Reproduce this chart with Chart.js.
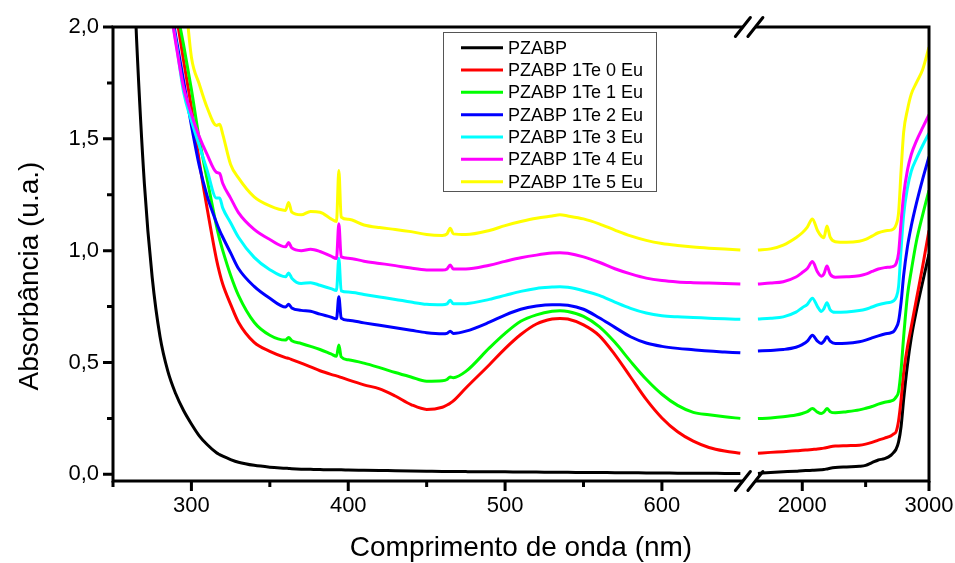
<!DOCTYPE html>
<html>
<head>
<meta charset="utf-8">
<title>Absorbância PZABP</title>
<script src="https://cdn.jsdelivr.net/npm/chart.js@4.4.1/dist/chart.umd.min.js"></script>
<style>
  html, body { margin: 0; padding: 0; background: #fff; }
  #wrap { width: 955px; height: 563px; }
</style>
</head>
<body>
<div id="wrap"><canvas id="chart" width="955" height="563"></canvas></div>
<script>
const FONT = "'Liberation Sans', Arial, Helvetica, sans-serif";

// wavelengths (nm): UV-Vis part and NIR part of the broken axis
const uvNm = [250, 260, 265, 270, 275, 280, 285, 290, 295, 300, 305, 310, 316, 318, 320, 325, 330, 340, 350, 360,
  362, 364, 370, 376, 382, 389, 392.5, 394, 395.5, 400, 410, 420, 430, 440, 450, 460, 463, 465, 467, 475,
  490, 500, 510, 520, 530, 535, 540, 550, 560, 570, 580, 590, 600, 610, 620, 630, 640, 650];
const nirNm = [1650, 1750, 1850, 1950, 2000, 2040, 2080, 2120, 2150, 2170, 2195, 2220, 2260, 2350, 2450,
  2500, 2550, 2600, 2650, 2700, 2720, 2740, 2760, 2780, 2800, 2830, 2860, 2900, 2950, 3000];

// absorbance (u.a.)
const pzabpUv = [4.0, 2.8, 1.95, 1.3, 0.88, 0.615, 0.46, 0.36, 0.285, 0.225, 0.172, 0.133, 0.096, 0.088, 0.081, 0.066, 0.054, 0.04, 0.032, 0.027,
  0.026, 0.025, 0.023, 0.022, 0.021, 0.02, 0.02, 0.02, 0.02, 0.019, 0.018, 0.017, 0.016, 0.015, 0.014, 0.013, 0.013, 0.013, 0.013, 0.012,
  0.011, 0.011, 0.01, 0.01, 0.009, 0.009, 0.009, 0.008, 0.008, 0.007, 0.007, 0.006, 0.006, 0.005, 0.005, 0.005, 0.004, 0.004];
const pzabpNir = [0.004, 0.008, 0.011, 0.014, 0.016, 0.017, 0.018, 0.019, 0.02, 0.021, 0.024, 0.027, 0.03, 0.033, 0.036,
  0.04, 0.052, 0.064, 0.07, 0.085, 0.097, 0.112, 0.145, 0.215, 0.335, 0.49, 0.61, 0.73, 0.86, 0.985];

const eu0Uv = [4.0, 3.6, 3.3, 3.0, 2.75, 2.55, 2.3, 2.07, 1.85, 1.64, 1.4, 1.19, 0.96, 0.9, 0.85, 0.76, 0.68, 0.59, 0.55, 0.522,
  0.518, 0.513, 0.497, 0.48, 0.463, 0.447, 0.44, 0.437, 0.433, 0.422, 0.4, 0.382, 0.35, 0.312, 0.29, 0.3, 0.31, 0.318, 0.328, 0.386,
  0.49, 0.562, 0.625, 0.672, 0.694, 0.697, 0.694, 0.668, 0.62, 0.535, 0.435, 0.335, 0.252, 0.19, 0.148, 0.12, 0.104, 0.094];
const eu0Nir = [0.094, 0.098, 0.101, 0.105, 0.107, 0.109, 0.111, 0.113, 0.115, 0.117, 0.12, 0.123, 0.126, 0.128, 0.13,
  0.135, 0.143, 0.153, 0.162, 0.172, 0.18, 0.19, 0.24, 0.335, 0.455, 0.57, 0.66, 0.78, 0.93, 1.09];

const eu1Uv = [4.0, 3.5, 3.2, 2.95, 2.7, 2.5, 2.3, 2.1, 1.92, 1.72, 1.5, 1.32, 1.11, 1.05, 1.0, 0.89, 0.8, 0.68, 0.622, 0.6,
  0.612, 0.597, 0.585, 0.572, 0.558, 0.538, 0.528, 0.578, 0.525, 0.512, 0.497, 0.477, 0.455, 0.435, 0.416, 0.418, 0.424, 0.435, 0.432, 0.46,
  0.565, 0.63, 0.684, 0.713, 0.729, 0.731, 0.728, 0.706, 0.66, 0.59, 0.505, 0.425, 0.358, 0.308, 0.277, 0.266, 0.257, 0.25];
const eu1Nir = [0.249, 0.252, 0.257, 0.265, 0.272, 0.28, 0.294, 0.278, 0.272, 0.278, 0.294, 0.28, 0.275, 0.28, 0.288,
  0.295, 0.303, 0.314, 0.322, 0.328, 0.332, 0.345, 0.37, 0.47, 0.615, 0.8, 0.91, 1.04, 1.16, 1.27];

const eu2Uv = [4.0, 3.4, 3.1, 2.85, 2.6, 2.38, 2.17, 1.96, 1.76, 1.56, 1.38, 1.245, 1.125, 1.09, 1.06, 0.99, 0.92, 0.84, 0.787, 0.748,
  0.76, 0.744, 0.733, 0.729, 0.716, 0.703, 0.695, 0.794, 0.698, 0.689, 0.677, 0.666, 0.655, 0.644, 0.633, 0.628, 0.63, 0.64, 0.63, 0.64,
  0.68, 0.712, 0.738, 0.752, 0.758, 0.758, 0.756, 0.738, 0.7, 0.657, 0.615, 0.587, 0.572, 0.563, 0.557, 0.551, 0.547, 0.543];
const eu2Nir = [0.551, 0.554, 0.558, 0.568, 0.58, 0.595, 0.622, 0.595, 0.585, 0.595, 0.615, 0.595, 0.585, 0.586, 0.593,
  0.6, 0.61, 0.619, 0.627, 0.633, 0.638, 0.655, 0.685, 0.77, 0.89, 1.018, 1.11, 1.21, 1.32, 1.42];

const eu3Uv = [4.0, 3.3, 3.0, 2.75, 2.5, 2.3, 2.12, 1.94, 1.71, 1.58, 1.47, 1.36, 1.235, 1.235, 1.19, 1.125, 1.06, 0.97, 0.915, 0.883,
  0.9, 0.877, 0.853, 0.857, 0.845, 0.83, 0.822, 0.966, 0.82, 0.815, 0.804, 0.793, 0.782, 0.77, 0.76, 0.758, 0.762, 0.778, 0.762, 0.763,
  0.782, 0.8, 0.818, 0.831, 0.837, 0.839, 0.836, 0.821, 0.8, 0.77, 0.742, 0.721, 0.709, 0.704, 0.701, 0.698, 0.695, 0.693];
const eu3Nir = [0.694, 0.698, 0.704, 0.725, 0.745, 0.76, 0.787, 0.75, 0.728, 0.74, 0.767, 0.735, 0.724, 0.726, 0.732,
  0.738, 0.748, 0.758, 0.765, 0.77, 0.775, 0.79, 0.84, 1.01, 1.16, 1.28, 1.355, 1.41, 1.47, 1.525];

const eu4Uv = [4.0, 3.2, 2.9, 2.65, 2.45, 2.3, 2.15, 1.93, 1.73, 1.61, 1.51, 1.43, 1.35, 1.345, 1.3, 1.235, 1.17, 1.095, 1.05, 1.017,
  1.036, 1.012, 1.0, 1.006, 0.996, 0.975, 0.965, 1.12, 0.972, 0.966, 0.953, 0.943, 0.933, 0.922, 0.914, 0.913, 0.918, 0.936, 0.918, 0.918,
  0.935, 0.952, 0.968, 0.98, 0.989, 0.991, 0.988, 0.972, 0.948, 0.919, 0.896, 0.877, 0.866, 0.86, 0.857, 0.855, 0.853, 0.851];
const eu4Nir = [0.851, 0.855, 0.861, 0.882, 0.902, 0.92, 0.951, 0.905, 0.886, 0.895, 0.931, 0.895, 0.881, 0.883, 0.888,
  0.895, 0.907, 0.918, 0.924, 0.927, 0.93, 0.942, 0.99, 1.13, 1.25, 1.36, 1.43, 1.49, 1.55, 1.608];

const eu5Uv = [4.0, 3.6, 3.3, 3.0, 2.75, 2.6, 2.45, 2.35, 2.2, 1.865, 1.745, 1.64, 1.56, 1.565, 1.52, 1.385, 1.325, 1.24, 1.2, 1.18,
  1.215, 1.172, 1.16, 1.175, 1.172, 1.142, 1.13, 1.358, 1.15, 1.14, 1.115, 1.103, 1.095, 1.085, 1.072, 1.068, 1.075, 1.1, 1.075, 1.072,
  1.09, 1.112, 1.13, 1.145, 1.155, 1.16, 1.155, 1.142, 1.12, 1.092, 1.066, 1.046, 1.032, 1.023, 1.016, 1.011, 1.007, 1.003];
const eu5Nir = [1.003, 1.008, 1.025, 1.058, 1.08, 1.105, 1.142, 1.09, 1.065, 1.058, 1.11, 1.06, 1.04, 1.037, 1.042,
  1.05, 1.065, 1.08, 1.088, 1.092, 1.097, 1.115, 1.17, 1.36, 1.53, 1.63, 1.7, 1.75, 1.81, 1.91];

const seriesLabels = ['PZABP', 'PZABP 1Te 0 Eu', 'PZABP 1Te 1 Eu', 'PZABP 1Te 2 Eu',
  'PZABP 1Te 3 Eu', 'PZABP 1Te 4 Eu', 'PZABP 1Te 5 Eu'];
const seriesUv = [pzabpUv, eu0Uv, eu1Uv, eu2Uv, eu3Uv, eu4Uv, eu5Uv];
const seriesNir = [pzabpNir, eu0Nir, eu1Nir, eu2Nir, eu3Nir, eu4Nir, eu5Nir];
const seriesColors = ['#000000', '#ff0000', '#00ff00', '#0000ff', '#00ffff', '#ff00ff', '#ffff00'];

const xMajorNm = [300, 400, 500, 600, 2000, 3000];
const xMinorNm = [250, 350, 450, 550, 2500];
const yMajor = [0, 0.5, 1, 1.5, 2];
const yMinor = [0.25, 0.75, 1.25, 1.75];

// axis is cut after the visible range; the NIR part is squeezed (1000 nm -> 80.8 units)
function axisPos(nm) {
  return nm < 1000 ? nm : 689.5 + (nm - 2000) * 0.0808;
}

function toPoints(uv, nir) {
  const pts = uvNm.map((nm, i) => ({ x: axisPos(nm), y: uv[i] }));
  pts.push({ x: (axisPos(650) + axisPos(1650)) / 2, y: null });
  nirNm.forEach((nm, i) => pts.push({ x: axisPos(nm), y: nir[i] }));
  return pts;
}

// keep the plot box fixed, labels may hang over the edges
function noScalePadding(s) {
  s.paddingLeft = 0; s.paddingRight = 0;
  s.paddingTop = 0; s.paddingBottom = 0;
}

const framePlugin = {
  id: 'frame',
  afterDatasetsDraw(chart) {
    const { ctx, chartArea: a, scales: { x, y } } = chart;
    ctx.save();
    ctx.strokeStyle = '#000';
    ctx.lineWidth = 3;
    ctx.strokeRect(a.left, a.top, a.right - a.left, a.bottom - a.top);

    // outward ticks
    ctx.beginPath();
    xMajorNm.forEach(nm => {
      const px = x.getPixelForValue(axisPos(nm));
      ctx.moveTo(px, a.bottom); ctx.lineTo(px, a.bottom + 10);
    });
    xMinorNm.forEach(nm => {
      const px = x.getPixelForValue(axisPos(nm));
      ctx.moveTo(px, a.bottom); ctx.lineTo(px, a.bottom + 6);
    });
    yMajor.forEach(v => {
      const py = y.getPixelForValue(v);
      ctx.moveTo(a.left, py); ctx.lineTo(a.left - 10, py);
    });
    yMinor.forEach(v => {
      const py = y.getPixelForValue(v);
      ctx.moveTo(a.left, py); ctx.lineTo(a.left - 6, py);
    });
    ctx.stroke();

    // break marks on top and bottom axis
    const bx = x.getPixelForValue((axisPos(650) + axisPos(1650)) / 2);
    ctx.lineCap = 'round';
    [a.top, a.bottom].forEach(by => {
      ctx.fillStyle = '#fff';
      ctx.fillRect(bx - 6, by - 3, 12, 6);
      ctx.beginPath();
      [-6.25, 6.25].forEach(dx => {
        ctx.moveTo(bx + dx - 7.5, by + 9.5);
        ctx.lineTo(bx + dx + 7.5, by - 9.5);
      });
      ctx.stroke();
    });
    ctx.restore();
  },
  afterDraw(chart) {
    const { ctx } = chart;
    ctx.save();

    // legend box
    ctx.fillStyle = '#fff';
    ctx.fillRect(443, 32, 214, 160);
    ctx.strokeStyle = '#555';
    ctx.lineWidth = 1;
    ctx.strokeRect(443.5, 32.5, 213, 159);
    ctx.font = '18px ' + FONT;
    ctx.textBaseline = 'middle';
    ctx.textAlign = 'left';
    chart.data.datasets.forEach((ds, i) => {
      const ry = 47.7 + i * 22.33;
      ctx.strokeStyle = ds.borderColor;
      ctx.lineWidth = 3;
      ctx.beginPath();
      ctx.moveTo(461, ry); ctx.lineTo(503, ry);
      ctx.stroke();
      ctx.fillStyle = '#000';
      ctx.fillText(ds.label, 508, ry + 1);
    });

    // y axis title
    ctx.translate(30, 276);
    ctx.rotate(-Math.PI / 2);
    ctx.font = '28px ' + FONT;
    ctx.textAlign = 'center';
    ctx.fillStyle = '#000';
    ctx.fillText('Absorbância (u.a.)', 0, 0);
    ctx.restore();
  }
};

new Chart(document.getElementById('chart'), {
  type: 'line',
  data: {
    datasets: seriesLabels.map((label, i) => ({
      label: label,
      data: toPoints(seriesUv[i], seriesNir[i]),
      borderColor: seriesColors[i],
      backgroundColor: seriesColors[i],
      borderWidth: 3,
      borderJoinStyle: 'round',
      pointRadius: 0,
      cubicInterpolationMode: 'monotone',
      spanGaps: false,
      fill: false,
      order: seriesLabels.length - i
    }))
  },
  options: {
    responsive: false,
    animation: false,
    events: [],
    layout: { padding: { top: 27, right: 26, left: 0, bottom: 0 } },
    plugins: { legend: { display: false }, tooltip: { enabled: false } },
    scales: {
      x: {
        type: 'linear',
        min: 250,
        max: axisPos(3000),
        grid: { display: false, drawTicks: false },
        border: { display: false },
        afterBuildTicks: s => { s.ticks = xMajorNm.map(nm => ({ value: axisPos(nm) })); },
        afterFit: s => { s.height = 82; noScalePadding(s); },
        ticks: {
          autoSkip: false, maxRotation: 0, padding: 12, color: '#000',
          font: { family: FONT, size: 22 },
          callback: (v, i) => String(xMajorNm[i])
        },
        title: {
          display: true, text: 'Comprimento de onda (nm)', color: '#000',
          font: { family: FONT, size: 28, lineHeight: 1 },
          padding: { top: 0, bottom: 1 }
        }
      },
      y: {
        type: 'linear',
        min: -0.03,
        max: 2,
        grid: { display: false, drawTicks: false },
        border: { display: false },
        afterBuildTicks: s => { s.ticks = yMajor.map(v => ({ value: v })); },
        afterFit: s => { s.width = 113; noScalePadding(s); },
        ticks: {
          padding: 14, color: '#000',
          font: { family: FONT, size: 22 },
          callback: v => v.toFixed(1).replace('.', ',')
        }
      }
    }
  },
  plugins: [framePlugin]
});
</script>
</body>
</html>
